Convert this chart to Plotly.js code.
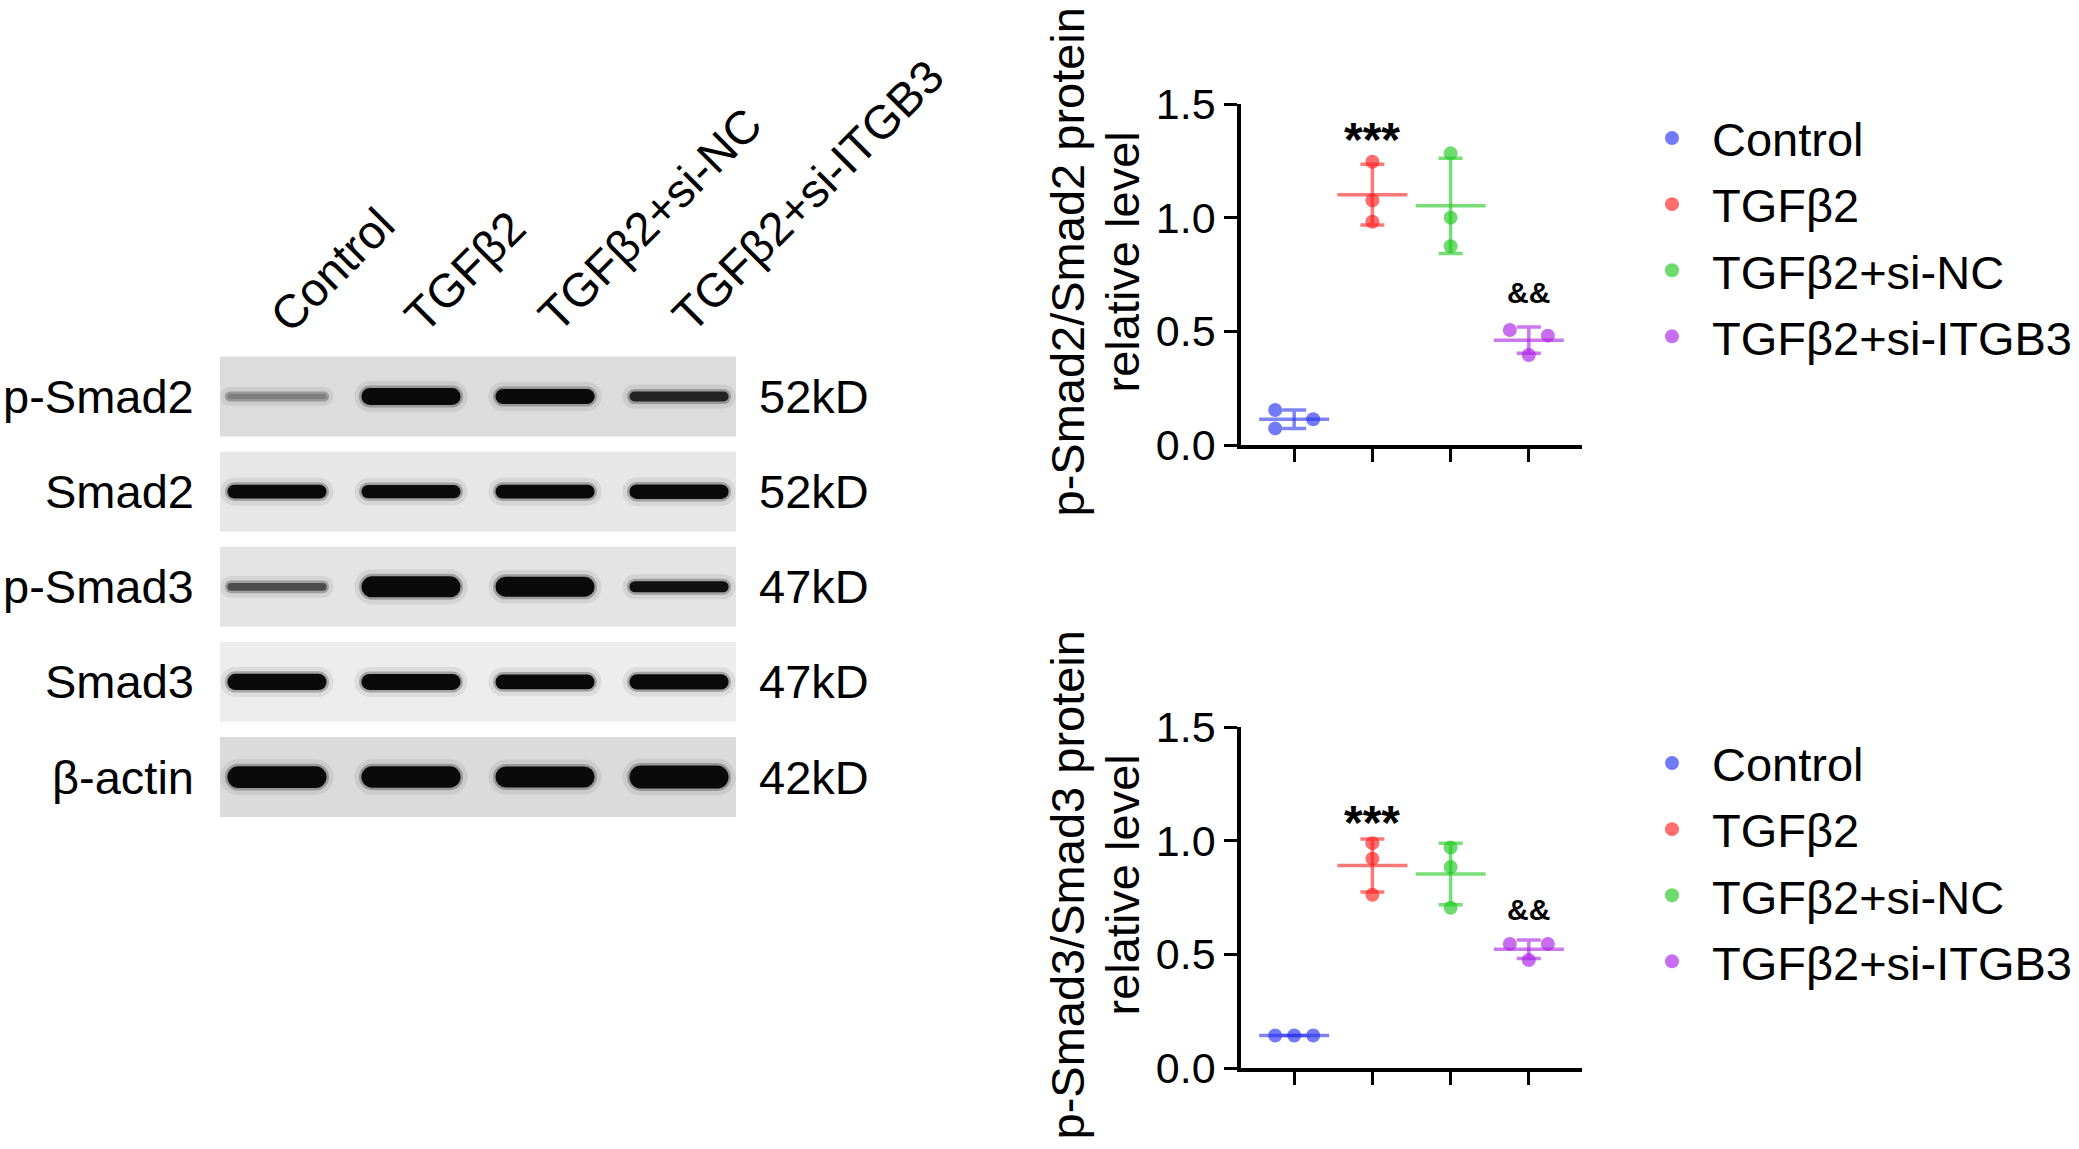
<!DOCTYPE html>
<html><head><meta charset="utf-8">
<script src="https://cdn.plot.ly/plotly-3.0.1.min.js"></script>
<style>html,body{margin:0;padding:0;background:#fff;} #chart{width:2079px;height:1149px;}</style>
</head><body><div id="chart"></div>
<script>
// ---------- data ----------
const groups = ['Control', 'TGFβ2', 'TGFβ2+si-NC', 'TGFβ2+si-ITGB3'];
const pSmad2Ratio = [[0.154, 0.113, 0.073], [1.246, 1.076, 0.982], [1.283, 1.000, 0.874], [0.506, 0.481, 0.396]];
const pSmad3Ratio = [[0.143, 0.143, 0.143], [0.989, 0.921, 0.762], [0.970, 0.884, 0.705], [0.546, 0.546, 0.475]];
const sigMarks = ['', '***', '', '&&'];
const yTicks = [0, 0.5, 1.0, 1.5];
const yTitleTop = ['p-Smad2/Smad2 protein', 'relative level'];
const yTitleBottom = ['p-Smad3/Smad3 protein', 'relative level'];

const blotProteins = ['p-Smad2', 'Smad2', 'p-Smad3', 'Smad3', 'β-actin'];
const blotWeights = ['52kD', '52kD', '47kD', '47kD', '42kD'];
const pSmad2Bands = [0.12, 0.82, 0.70, 0.42];
const smad2Bands = [0.64, 0.60, 0.63, 0.68];
const pSmad3Bands = [0.28, 1.05, 1.00, 0.48];
const smad3Bands = [0.78, 0.76, 0.70, 0.72];
const actinBands = [1.10, 1.08, 1.06, 1.18];

// ---------- style ----------
const FONT = 'Liberation Sans, Arial, Helvetica, sans-serif';
const dotColors = ['rgba(40,50,240,0.65)', 'rgba(255,30,30,0.65)', 'rgba(30,200,30,0.65)', 'rgba(170,30,230,0.65)'];
const lineColors = ['rgba(40,50,240,0.6)', 'rgba(255,30,30,0.6)', 'rgba(30,200,30,0.6)', 'rgba(170,30,230,0.6)'];
const panelGrays = ['#dcdcdc', '#e7e7e7', '#e4e4e4', '#ededed', '#dbdbdb'];
const W = 2079, H = 1149;
const DOT = 14;
const topDom = [1 - 445 / H, 1 - 104 / H];
const botDom = [1 - 1068 / H, 1 - 727 / H];
const xDom = [1241 / W, 1582 / W];
const xRange = [-0.68, 3.68];
const pxPerUnitX = (xDom[1] - xDom[0]) * W / (xRange[1] - xRange[0]);
const pxPerUnitY = (topDom[1] - topDom[0]) * H / 1.5;

function mean(a) { return a.reduce((s, v) => s + v, 0) / a.length; }
function sd(a) { const m = mean(a); return Math.sqrt(a.reduce((s, v) => s + (v - m) * (v - m), 0) / (a.length - 1)); }

function swarmOffsets(vals, thr, step) {
  const n = vals.length;
  const idx = vals.map((v, i) => i).sort((a, b) => vals[b] - vals[a]);
  const off = new Array(n).fill(0);
  const clusters = []; let cur = [idx[0]];
  for (let k = 1; k < n; k++) {
    if (vals[idx[k - 1]] - vals[idx[k]] < thr) cur.push(idx[k]);
    else { clusters.push(cur); cur = [idx[k]]; }
  }
  clusters.push(cur);
  clusters.forEach(c => {
    if (c.length === 1) return;
    const clique = vals[c[0]] - vals[c[c.length - 1]] < thr;
    if (clique) c.forEach((id, j) => off[id] = (j - (c.length - 1) / 2) * (2 * step / (c.length - 1)));
    else c.forEach((id, j) => off[id] = (j % 2 === 0 ? -step : step));
  });
  return off;
}

const traces = [];
const annotations = [];

function addPanel(data, xa, ya, legendId, sigShift, titleLines, dom) {
  const thr = DOT / pxPerUnitY;
  const step = 19 / pxPerUnitX;
  data.forEach((vals, g) => {
    const off = swarmOffsets(vals, thr, step);
    traces.push({
      type: 'scatter', mode: 'markers', xaxis: xa, yaxis: ya,
      x: vals.map((v, i) => g + off[i]), y: vals,
      name: groups[g], legend: legendId, legendgroup: legendId + g, showlegend: true,
      marker: { size: DOT, color: dotColors[g], line: { width: 0 } },
      hoverinfo: 'y'
    });
    traces.push({
      type: 'scatter', mode: 'markers', xaxis: xa, yaxis: ya,
      x: [g], y: [mean(vals)], showlegend: false, legendgroup: legendId + g, legend: legendId,
      marker: { symbol: 'line-ew', size: 50, color: lineColors[g], line: { width: 3.5, color: lineColors[g] } },
      error_y: { type: 'data', array: [sd(vals)], visible: true, thickness: 3.5, width: 12, color: lineColors[g] },
      hoverinfo: 'y'
    });
    if (sigMarks[g]) {
      const top = Math.max(Math.max(...vals), mean(vals) + sd(vals));
      const big = sigMarks[g] === '***';
      annotations.push({
        xref: xa, yref: ya, x: g, y: top, text: sigMarks[g], showarrow: false,
        xanchor: 'center', yanchor: 'bottom', yshift: big ? sigShift[0] : sigShift[1],
        font: { family: FONT, size: big ? 48 : 30, color: '#000', weight: 'bold' }
      });
    }
  });
  // two-line rotated y-axis title, centred slightly above the axis middle like the original
  const mid = (dom[0] + dom[1]) / 2 + 12 / H;
  titleLines.forEach((t, k) => {
    annotations.push({
      xref: 'paper', yref: 'paper', x: (k === 0 ? 1067 : 1122) / W, y: mid, xanchor: 'center', yanchor: 'middle',
      text: t, textangle: -90, showarrow: false, font: { family: FONT, size: 47, color: '#000' }
    });
  });
}

addPanel(pSmad2Ratio, 'x', 'y', 'legend', [-6, 16], yTitleTop, topDom);
addPanel(pSmad3Ratio, 'x2', 'y2', 'legend2', [-12, 12], yTitleBottom, botDom);

// ---------- western blot ----------
const bandSets = [pSmad2Bands, smad2Bands, pSmad3Bands, smad3Bands, actinBands];
const lanes = groups.map((g, i) => i + 1);
const rows = blotProteins.map((p, i) => i + 1);
const laneMargin = 0.425;
traces.push({
  type: 'bar', orientation: 'h', xaxis: 'x3', yaxis: 'y3',
  y: rows, x: rows.map(() => (lanes.length - 1) + 2 * laneMargin), base: 1 - laneMargin,
  width: 0.84, marker: { color: panelGrays, line: { width: 0 } }, showlegend: false, hoverinfo: 'skip'
});
const laneHalf = 0.37;
bandSets.forEach((bands, r) => {
  bands.forEach((dens, l) => {
    const thick = 3 + 17 * dens;
    const dark = Math.min(1, 0.2 + 1.6 * dens);
    const g = Math.round(255 * (1 - dark) * 0.75 + 10);
    const capU = (thick / 2) / 134;
    const x0 = lanes[l] - laneHalf + capU, x1 = lanes[l] + laneHalf - capU;
    const layers = [
      { w: thick + 14, c: 'rgba(0,0,0,0.07)' },
      { w: thick + 5, c: 'rgba(0,0,0,0.25)' },
      { w: thick, c: `rgb(${g},${g},${g})` }
    ];
    layers.forEach(ly => traces.push({
      type: 'scatter', mode: 'lines', xaxis: 'x3', yaxis: 'y3',
      x: [x0, x1], y: [rows[r], rows[r]], line: { width: ly.w, color: ly.c },
      showlegend: false, hoverinfo: 'skip', name: 'band'
    }));
  });
});
rows.forEach((r, i) => {
  annotations.push({ xref: 'x3', yref: 'y3', x: 1 - laneMargin, y: r, xshift: -24, xanchor: 'right', yanchor: 'middle',
    text: blotProteins[i], showarrow: false, font: { family: FONT, size: 47, color: '#000' } });
  annotations.push({ xref: 'x3', yref: 'y3', x: lanes[lanes.length - 1] + laneMargin, y: r, xshift: 21, xanchor: 'left', yanchor: 'middle',
    text: blotWeights[i], showarrow: false, font: { family: FONT, size: 47, color: '#000' } });
});
lanes.forEach((l, i) => {
  annotations.push({ xref: 'x3', yref: 'y3', x: l, y: 0.58, xshift: -20, yshift: 12, xanchor: 'left', yanchor: 'bottom',
    text: groups[i], textangle: -45, showarrow: false, font: { family: FONT, size: 47, color: '#000' } });
});

// ---------- layout ----------
function xAx(anchor) {
  return { domain: xDom, range: xRange, anchor: anchor, showgrid: false, zeroline: false,
    showline: true, linewidth: 3.5, linecolor: '#000', ticks: 'outside', ticklen: 13, tickwidth: 3, tickcolor: '#000',
    tickvals: [0, 1, 2, 3], showticklabels: false, fixedrange: true };
}
function yAx(dom, anchor) {
  return { domain: dom, range: [0, 1.5], anchor: anchor, showgrid: false, zeroline: false,
    showline: true, linewidth: 3.5, linecolor: '#000', ticks: 'outside', ticklen: 13, tickwidth: 3, tickcolor: '#000',
    tickvals: yTicks, tickformat: '.1f', tickfont: { family: FONT, size: 43, color: '#000' }, fixedrange: true };
}
const legendBase = { xanchor: 'left', yanchor: 'top', font: { family: FONT, size: 47, color: '#000' },
  bgcolor: 'rgba(0,0,0,0)', traceorder: 'grouped', tracegroupgap: 2, itemclick: false, itemdoubleclick: false,
  itemwidth: 70 };

const layout = {
  width: W, height: H, margin: { l: 0, r: 0, t: 0, b: 0 }, paper_bgcolor: '#fff', plot_bgcolor: 'rgba(0,0,0,0)',
  font: { family: FONT, color: '#000' }, showlegend: true, hovermode: 'closest',
  xaxis: xAx('y'), yaxis: yAx(topDom, 'x'),
  xaxis2: xAx('y2'), yaxis2: yAx(botDom, 'x2'),
  xaxis3: { domain: [220 / W, 736 / W], range: [1 - laneMargin, lanes.length + laneMargin], visible: false, fixedrange: true, anchor: 'y3' },
  yaxis3: { domain: [1 - 817 / H, 1 - 356 / H], range: [5.42, 0.574], visible: false, fixedrange: true, anchor: 'x3' },
  legend: Object.assign({}, legendBase, { x: 1632 / W, y: 1 - 101 / H }),
  legend2: Object.assign({}, legendBase, { x: 1632 / W, y: 1 - 726 / H }),
  annotations: annotations
};

Plotly.newPlot('chart', traces, layout, { displayModeBar: false, staticPlot: false }).then(() => {
  document.querySelectorAll('.subplot.x3y3 .scatterlayer path.js-line').forEach(p => { p.style.strokeLinecap = 'round'; });
});
</script>
</body></html>
